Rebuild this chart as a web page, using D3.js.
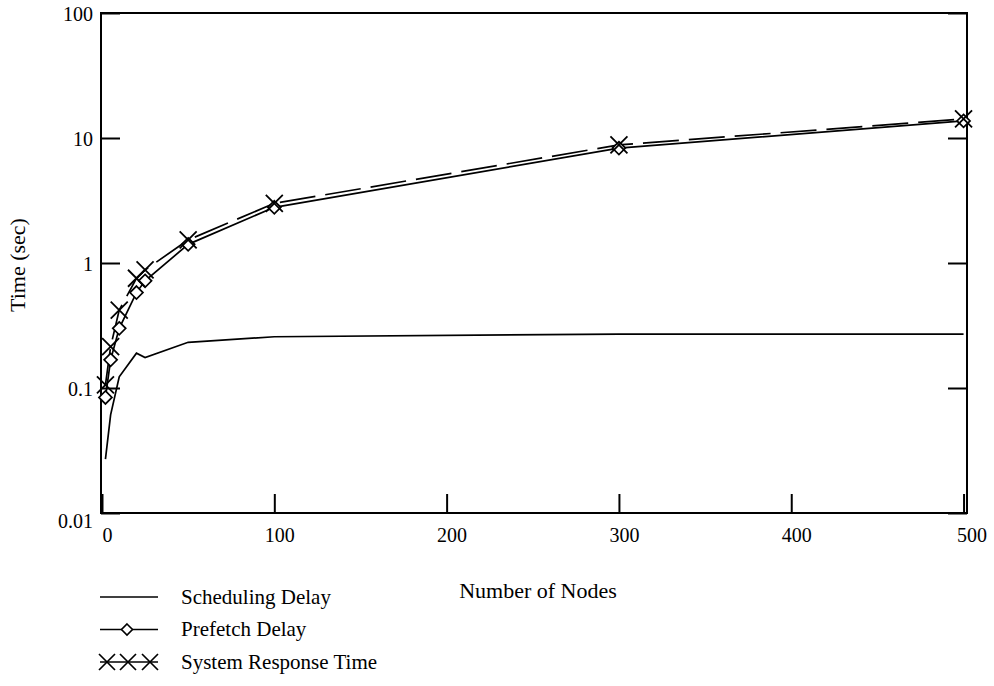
<!DOCTYPE html>
<html>
<head>
<meta charset="utf-8">
<script src="https://cdn.jsdelivr.net/npm/d3@7"></script>
<style>
  body { margin: 0; background: #fff; }
  text { font-family: "Liberation Serif", "Times New Roman", serif; fill: #000; }
</style>
</head>
<body>
<div class="chart"></div>
<script>
var svgWidth = 994;
var svgHeight = 686;

// data
var nodes = [2, 5, 10, 20, 25, 50, 100, 300, 500];
var schedulingDelay = [0.027, 0.061, 0.123, 0.19, 0.175, 0.232, 0.257, 0.27, 0.27];
var prefetchDelay = [0.084, 0.168, 0.30, 0.58, 0.72, 1.41, 2.79, 8.3, 13.7];
var responseTime = [0.106, 0.214, 0.42, 0.755, 0.88, 1.53, 3.0, 8.8, 14.2];

var xTicks = [0, 100, 200, 300, 400, 500];
var yTicks = [0.01, 0.1, 1, 10, 100];
var yTickLabels = ["0.01", "0.1", "1", "10", "100"];
var seriesNames = ["Scheduling Delay", "Prefetch Delay", "System Response Time"];

var margin = { top: 13, right: 27, bottom: 173, left: 101 };
var width = svgWidth - margin.left - margin.right;
var height = svgHeight - margin.top - margin.bottom;

var svg = d3.select(".chart")
  .append("svg")
  .attr("width", svgWidth)
  .attr("height", svgHeight);

var chartGroup = svg.append("g")
  .attr("transform", `translate(${margin.left}, ${margin.top})`);

var xScale = d3.scaleLinear()
  .domain([0, 502])
  .range([1, width]);

var yScale = d3.scaleLog()
  .domain([0.01, 100])
  .range([height, 0]);

// axes, ticks pointing inwards
var bottomAxis = d3.axisBottom(xScale).tickValues(xTicks).tickSizeInner(-19).tickSizeOuter(0).tickPadding(0);
var leftAxis = d3.axisLeft(yScale).tickValues(yTicks).tickSizeInner(-19).tickSizeOuter(0)
  .tickFormat((d, i) => yTickLabels[i]);
var rightAxis = d3.axisRight(yScale).tickValues(yTicks).tickSizeInner(-19).tickSizeOuter(0).tickFormat("");

var xg = chartGroup.append("g")
  .attr("transform", `translate(0, ${height})`)
  .call(bottomAxis);
xg.selectAll("text")
  .attr("dx", d => d === 500 ? 8 : 5)
  .attr("y", 15)
  .attr("dy", "0.71em")
  .style("font-size", "20px");

var yg = chartGroup.append("g").call(leftAxis);
yg.selectAll("text")
  .attr("x", -8)
  .style("font-size", "20px")
  .attr("dy", d => d === 0.01 ? "0.7em" : "0.35em");

chartGroup.append("g")
  .attr("transform", `translate(${width}, 0)`)
  .call(rightAxis);

chartGroup.selectAll(".domain").remove();
chartGroup.selectAll(".tick line").attr("stroke", "#000").attr("stroke-width", 2);

// frame
chartGroup.append("rect")
  .attr("x", 0)
  .attr("y", 0)
  .attr("width", width)
  .attr("height", height)
  .attr("fill", "none")
  .attr("stroke", "#000")
  .attr("stroke-width", 2);

var line = d3.line()
  .x(d => xScale(d[0]))
  .y(d => yScale(d[1]));

var schedPts = nodes.map((n, i) => [n, schedulingDelay[i]]);
var prefPts = nodes.map((n, i) => [n, prefetchDelay[i]]);
var respPts = nodes.map((n, i) => [n, responseTime[i]]);

chartGroup.append("path")
  .datum(schedPts)
  .attr("d", line)
  .attr("fill", "none")
  .attr("stroke", "#000")
  .attr("stroke-width", 1.7);

chartGroup.append("path")
  .datum(prefPts)
  .attr("d", line)
  .attr("fill", "none")
  .attr("stroke", "#000")
  .attr("stroke-width", 1.7);

chartGroup.append("path")
  .datum(respPts)
  .attr("d", line)
  .attr("fill", "none")
  .attr("stroke", "#000")
  .attr("stroke-width", 1.7)
  .attr("stroke-dasharray", "36,10");

var diamond = "M0,-6.5L6.5,0L0,6.5L-6.5,0Z";
var cross = "M-8.5,-8.5L8.5,8.5M-8.5,8.5L8.5,-8.5";

chartGroup.selectAll(".diamond")
  .data(prefPts)
  .enter()
  .append("path")
  .attr("class", "diamond")
  .attr("transform", d => `translate(${xScale(d[0])}, ${yScale(d[1])})`)
  .attr("d", diamond)
  .attr("fill", "#fff")
  .attr("stroke", "#000")
  .attr("stroke-width", 1.7);

chartGroup.selectAll(".cross")
  .data(respPts)
  .enter()
  .append("path")
  .attr("class", "cross")
  .attr("transform", d => `translate(${xScale(d[0])}, ${yScale(d[1])})`)
  .attr("d", cross)
  .attr("fill", "none")
  .attr("stroke", "#000")
  .attr("stroke-width", 1.8);

// axis titles
svg.append("text")
  .attr("x", 538)
  .attr("y", 598)
  .attr("text-anchor", "middle")
  .style("font-size", "22px")
  .text("Number of Nodes");

svg.append("text")
  .attr("transform", "translate(25, 265) rotate(-90)")
  .attr("text-anchor", "middle")
  .style("font-size", "22px")
  .text("Time (sec)");

// legend
var legend = svg.append("g").attr("transform", "translate(100, 597)");
var rowGap = 32.5;

seriesNames.forEach(function(name, i) {
  var row = legend.append("g").attr("transform", `translate(0, ${i * rowGap})`);
  row.append("line")
    .attr("x1", 0).attr("x2", 58)
    .attr("y1", 0).attr("y2", 0)
    .attr("stroke", "#000")
    .attr("stroke-width", 1.7);
  if (i === 1) {
    row.append("path")
      .attr("transform", "translate(27, 0)")
      .attr("d", "M0,-5.5L5.5,0L0,5.5L-5.5,0Z")
      .attr("fill", "#fff")
      .attr("stroke", "#000")
      .attr("stroke-width", 1.6);
  }
  if (i === 2) {
    [7, 28, 50].forEach(function(cx) {
      row.append("path")
        .attr("transform", `translate(${cx}, 0)`)
        .attr("d", "M-8,-8L8,8M-8,8L8,-8")
        .attr("stroke", "#000")
        .attr("stroke-width", 1.7);
    });
  }
  row.append("text")
    .attr("x", 81)
    .attr("y", 0)
    .attr("dy", "0.33em")
    .style("font-size", "21px")
    .text(name);
});
</script>
</body>
</html>
